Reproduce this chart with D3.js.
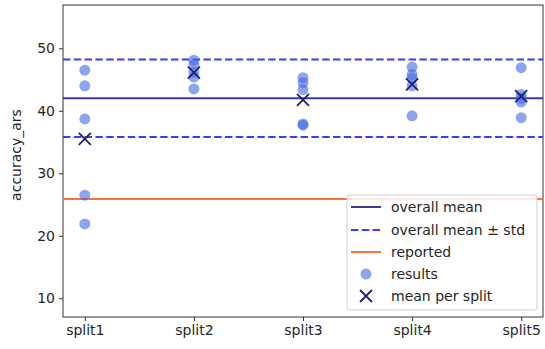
<!DOCTYPE html>
<html>
<head>
<meta charset="utf-8">
<script src="https://cdn.jsdelivr.net/npm/d3@7"></script>
<style>
  body { margin: 0; background: #fff; }
  text { font-family: "DejaVu Sans", sans-serif; fill: #262626; }
</style>
</head>
<body>
<div id="chart"></div>
<script>
// chart values
var splits = ["split1", "split2", "split3", "split4", "split5"];
var results = [
  [46.5, 44.0, 38.7, 26.5, 21.9],
  [48.1, 47.4, 46.2, 45.4, 43.5],
  [45.3, 44.5, 43.4, 37.9, 37.7],
  [47.0, 45.8, 45.2, 44.0, 39.2],
  [46.9, 42.6, 42.0, 41.4, 38.9]
];
var overallMean = 42.0;
var overallStd = 6.2;
var reported = 25.9;
var yTicks = [10, 20, 30, 40, 50];
var legendLabels = ["overall mean", "overall mean \u00b1 std", "reported", "results", "mean per split"];

var svgWidth = 545;
var svgHeight = 349;
var margin = { top: 5, right: 2, bottom: 32, left: 63 };
var width = svgWidth - margin.left - margin.right;
var height = svgHeight - margin.top - margin.bottom;

var svg = d3.select("#chart").append("svg")
  .attr("width", svgWidth).attr("height", svgHeight);

var chartGroup = svg.append("g").attr("transform", `translate(${margin.left}, ${margin.top})`);

var x = d3.scaleLinear().domain([-0.2, splits.length - 1 + 0.2]).range([0, width]);
var y = d3.scaleLinear().domain([7.0, 56.93]).range([height, 0]);

// axes
var bottomAxis = d3.axisBottom(x).tickValues(d3.range(splits.length))
  .tickFormat(i => splits[i]).tickSize(4).tickPadding(4);
var leftAxis = d3.axisLeft(y).tickValues(yTicks).tickSize(4).tickPadding(4);

chartGroup.append("g").attr("transform", `translate(0, ${height})`).call(bottomAxis);
chartGroup.append("g").call(leftAxis);
chartGroup.selectAll(".domain").remove();
chartGroup.selectAll(".tick line").attr("stroke", "#333");
chartGroup.selectAll(".tick text").style("font-size", "14px").attr("fill", "#262626");

// frame
chartGroup.append("rect").attr("width", width).attr("height", height)
  .attr("fill", "none").attr("stroke", "#333").attr("stroke-width", 1);

svg.append("text")
  .attr("transform", `translate(21, 155) rotate(-90)`)
  .attr("text-anchor", "middle")
  .style("font-size", "14px")
  .text("accuracy_ars");

// horizontal lines
function hline(v, color, dash) {
  chartGroup.append("line")
    .attr("x1", 0).attr("x2", width)
    .attr("y1", y(v)).attr("y2", y(v))
    .attr("stroke", color).attr("stroke-width", 2)
    .attr("stroke-dasharray", dash || null);
}
hline(overallMean, "#3a3a9e");
hline(overallMean + overallStd, "#3b3bff", "7.4,3.4");
hline(overallMean - overallStd, "#3b3bff", "7.4,3.4");
hline(reported, "#ff7043");

// points
results.forEach(function(vals, i) {
  chartGroup.selectAll(null).data(vals).enter().append("circle")
    .attr("cx", x(i)).attr("cy", d => y(d)).attr("r", 5.5)
    .attr("fill", "#4169e1").attr("fill-opacity", 0.6);
});

// mean per split
var xs = 6;
results.forEach(function(vals, i) {
  var cx = x(i), cy = y(d3.mean(vals));
  chartGroup.append("path")
    .attr("d", `M${cx - xs},${cy - xs}L${cx + xs},${cy + xs}M${cx - xs},${cy + xs}L${cx + xs},${cy - xs}`)
    .attr("stroke", "#1f1f70").attr("stroke-width", 1.8);
});

// legend
var lg = svg.append("g").attr("transform", "translate(347, 195)");
lg.append("rect").attr("width", 190).attr("height", 115).attr("rx", 3)
  .attr("fill", "#fff").attr("fill-opacity", 0.85).attr("stroke", "#d0d0d0");
var rowY = [12, 35, 57, 79, 101];
legendLabels.forEach(function(lab, i) {
  var ry = rowY[i];
  if (i < 3) {
    lg.append("line").attr("x1", 4).attr("x2", 34).attr("y1", ry).attr("y2", ry)
      .attr("stroke", ["#3a3a9e", "#3b3bff", "#ff7043"][i]).attr("stroke-width", 2)
      .attr("stroke-dasharray", i === 1 ? "7.4,3.4" : null);
  } else if (i === 3) {
    lg.append("circle").attr("cx", 19).attr("cy", ry).attr("r", 5.5)
      .attr("fill", "#4169e1").attr("fill-opacity", 0.6);
  } else {
    lg.append("path")
      .attr("d", `M${19 - xs},${ry - xs}L${19 + xs},${ry + xs}M${19 - xs},${ry + xs}L${19 + xs},${ry - xs}`)
      .attr("stroke", "#1f1f70").attr("stroke-width", 1.8);
  }
  lg.append("text").attr("x", 44).attr("y", ry + 5).style("font-size", "14px").text(lab);
});
</script>
</body>
</html>
